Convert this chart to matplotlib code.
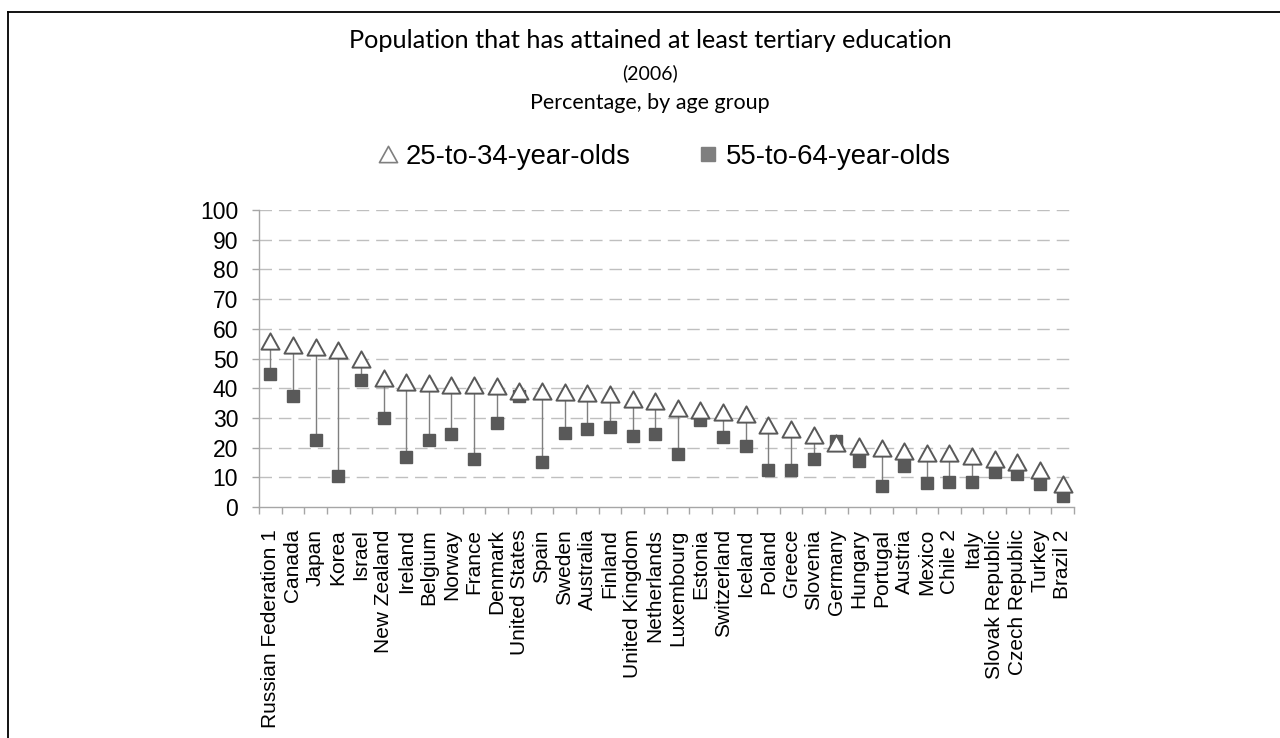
import matplotlib
matplotlib.use("Agg")
import matplotlib.pyplot as plt
from matplotlib.lines import Line2D
from matplotlib.path import Path
import numpy as np

countries = [
    "Russian Federation 1", "Canada", "Japan", "Korea", "Israel", "New Zealand",
    "Ireland", "Belgium", "Norway", "France", "Denmark", "United States", "Spain",
    "Sweden", "Australia", "Finland", "United Kingdom", "Netherlands", "Luxembourg",
    "Estonia", "Switzerland", "Iceland", "Poland", "Greece", "Slovenia", "Germany",
    "Hungary", "Portugal", "Austria", "Mexico", "Chile 2", "Italy", "Slovak Republic",
    "Czech Republic", "Turkey", "Brazil 2",
]
age_25_34 = [55.9, 54.6, 53.9, 52.7, 49.9, 43.3, 42.1, 41.6, 41.2, 41.1, 40.7, 39.0,
             39.0, 38.6, 38.5, 38.2, 36.5, 35.7, 33.3, 32.6, 31.9, 31.2, 27.6, 26.4,
             24.4, 21.7, 20.4, 19.7, 18.9, 18.2, 18.2, 17.2, 16.3, 15.1, 12.6, 7.6]
age_55_64 = [44.9, 37.4, 22.7, 10.4, 42.6, 30.0, 16.9, 22.4, 24.6, 16.0, 28.4, 37.4,
             15.3, 24.9, 26.1, 27.1, 23.9, 24.7, 18.0, 29.2, 23.5, 20.7, 12.6, 12.6,
             16.3, 22.2, 15.5, 7.2, 13.7, 8.2, 8.5, 8.5, 11.7, 11.0, 7.9, 3.6]
y_ticks = [0, 10, 20, 30, 40, 50, 60, 70, 80, 90, 100]

LABEL_FONT = "Liberation Sans"
TITLE_FONT = "Lato"
DARK = "#595959"
AXIS_GREY = "#a6a6a6"
GRID_GREY = "#bfbfbf"

# slightly flattened triangle, as used by spreadsheet charts
tri = Path([(0, 0.9), (-1, -0.9), (1, -0.9), (0, 0.9)],
           [Path.MOVETO, Path.LINETO, Path.LINETO, Path.CLOSEPOLY])

fig = plt.figure(figsize=(12.8, 7.38), dpi=100)
ax = fig.add_axes([259 / 1280, 1 - 507 / 738, (1074 - 259) / 1280, (507 - 210) / 738])

x = np.arange(len(countries))
lo = np.minimum(age_25_34, age_55_64)
hi = np.maximum(age_25_34, age_55_64)
ax.vlines(x, lo, hi, color="#7f7f7f", lw=1.0, zorder=2)
ax.plot(x, age_55_64, ls="none", marker="s", ms=9, mfc=DARK, mec=DARK, zorder=3)
ax.plot(x, age_25_34, ls="none", marker=tri, ms=13, mfc="white", mec=DARK,
        mew=1.4, zorder=4)

ax.set_xlim(-0.5, len(countries) - 0.5)
ax.set_ylim(0, 100)
ax.set_yticks(y_ticks)
ax.set_yticklabels([str(v) for v in y_ticks], fontfamily=LABEL_FONT, fontsize=16.5)
for v in y_ticks[1:]:
    ax.axhline(v, color=GRID_GREY, lw=1.0, ls=(0, (9, 5)), zorder=1)

ax.set_xticks(x)
ax.set_xticklabels(countries, rotation=90, fontfamily=LABEL_FONT, fontsize=15,
                   va="top", ha="center")
ax.set_xticks(np.arange(-0.5, len(countries)), minor=True)
ax.tick_params(axis="x", which="major", length=0, pad=16)
ax.tick_params(axis="x", which="minor", length=5, color=AXIS_GREY, width=1)
ax.tick_params(axis="y", length=5, color=AXIS_GREY, width=1, pad=10)

for s in ("top", "right"):
    ax.spines[s].set_visible(False)
for s in ("left", "bottom"):
    ax.spines[s].set_color(AXIS_GREY)
    ax.spines[s].set_linewidth(1.0)

# titles
cx = 650 / 1280
fig.text(cx, 1 - 40 / 738, "Population that has attained at least tertiary education",
         ha="center", va="center", fontfamily=TITLE_FONT, fontsize=18.2)
fig.text(cx, 1 - 73 / 738, "(2006)", ha="center", va="center",
         fontfamily=TITLE_FONT, fontsize=14)
fig.text(cx, 1 - 103 / 738, "Percentage, by age group", ha="center", va="center",
         fontfamily=TITLE_FONT, fontsize=15.5)

# legend
handles = [
    Line2D([], [], ls="none", marker=tri, ms=13, mfc="white", mec="#7f7f7f", mew=1.2),
    Line2D([], [], ls="none", marker="s", ms=10.5, mfc="#7f7f7f", mec="#7f7f7f"),
]
fig.legend(handles, ["25-to-34-year-olds", "55-to-64-year-olds"],
           loc="center", bbox_to_anchor=(664 / 1280, 1 - 157 / 738), ncol=2,
           frameon=False, handlelength=0.8, handletextpad=0.25, columnspacing=2.4,
           prop={"family": LABEL_FONT, "size": 19.8})

# outer frame
fig.add_artist(Line2D([8 / 1280, 8 / 1280], [0, 1 - 12 / 738], transform=fig.transFigure,
                      color="black", lw=1.3))
fig.add_artist(Line2D([8 / 1280, 1], [1 - 12 / 738, 1 - 12 / 738], transform=fig.transFigure,
                      color="black", lw=1.3))

fig.savefig("out.png", dpi=100)
